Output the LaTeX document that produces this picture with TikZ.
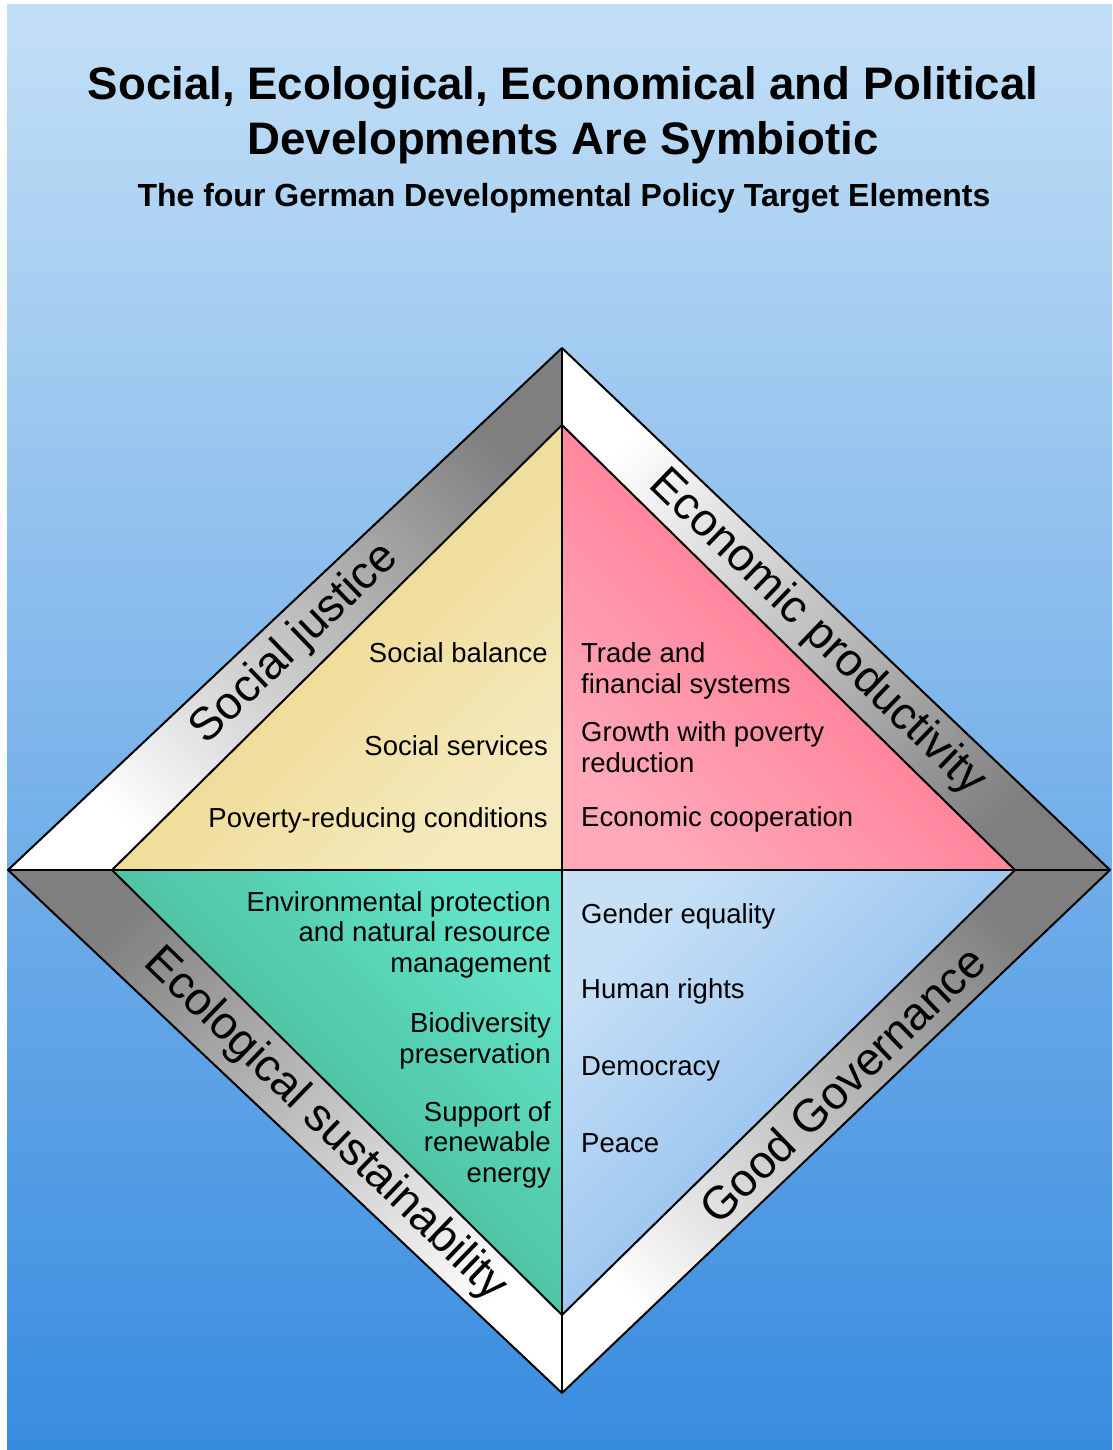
\documentclass[tikz,border=0pt]{standalone}
\usepackage{fontspec}
\setmainfont{Liberation Sans}
\usetikzlibrary{positioning}

% Colours of the background, the bands and the four fields
\definecolor{bgtop}{HTML}{C3DFF6}
\definecolor{bgbottom}{HTML}{388CE0}
\definecolor{bandgray}{HTML}{7F7F7F}
\definecolor{sjdark}{HTML}{EDCF78}
\definecolor{sjlight}{HTML}{F4EABD}
\definecolor{epdark}{HTML}{FF6583}
\definecolor{eplight}{HTML}{FFA8B8}
\definecolor{esdark}{HTML}{3CA784}
\definecolor{eslight}{HTML}{62E2C6}
\definecolor{ggdark}{HTML}{78AEEA}
\definecolor{gglight}{HTML}{C6E0F6}

\begin{document}
\begin{tikzpicture}[x=1pt, y=-1pt,
  edge/.style={draw=black, line width=2pt, line join=round},
  item/.style={font=\fontsize{27.5}{30.5}\selectfont, inner sep=0pt},
  bandlabel/.style={font=\fontsize{46}{50}\selectfont, inner sep=0pt}]
% Set the page size and the background
\useasboundingbox (0,0) rectangle (1112,1450);
\fill[white] (0,0) rectangle (1112,1450);
\shade[top color=bgtop, bottom color=bgbottom] (7,5) rectangle (1112,1450);

% Corners of the outer and the inner diamond
\coordinate (OT) at (562,348);
\coordinate (OL) at (8,870);
\coordinate (OR) at (1110,870);
\coordinate (OB) at (562,1393);
\coordinate (IT) at (562,425);
\coordinate (IL) at (112,870);
\coordinate (IR) at (1015,870);
\coordinate (IB) at (562,1315);
\coordinate (C) at (562,870);

% The four bands round the diamond
\shade[top color=bandgray, bottom color=white, shading angle=-45] (OT) -- (IT) -- (IL) -- (OL) -- cycle;
\shade[top color=white, bottom color=bandgray, shading angle=45] (OT) -- (OR) -- (IR) -- (IT) -- cycle;
\shade[top color=bandgray, bottom color=white, shading angle=-45] (OR) -- (OB) -- (IB) -- (IR) -- cycle;
\shade[top color=bandgray, bottom color=white, shading angle=45] (OL) -- (IL) -- (IB) -- (OB) -- cycle;

% The four fields
\shade[top color=sjdark, bottom color=sjlight, shading angle=45] (IT) -- (C) -- (IL) -- cycle;
\shade[top color=epdark, bottom color=eplight, shading angle=-45] (IT) -- (IR) -- (C) -- cycle;
\shade[top color=eslight, bottom color=esdark, shading angle=-45] (IL) -- (C) -- (IB) -- cycle;
\shade[top color=gglight, bottom color=ggdark, shading angle=45] (C) -- (IR) -- (IB) -- cycle;

% Outlines
\draw[edge] (OT) -- (OR) -- (OB) -- (OL) -- cycle;
\draw[edge] (IT) -- (IR) -- (IB) -- (IL) -- cycle;
\draw[edge] (OL) -- (OR);
\draw[edge] (OT) -- (OB);

% Title
\node[anchor=base, inner sep=0pt, font=\fontsize{45.6}{55}\selectfont\bfseries] (title1) at (563,100) {Social, Ecological, Economical and Political};
\node[anchor=base, inner sep=0pt, font=\fontsize{45.6}{55}\selectfont\bfseries] (title2) at (563,155) {Developments Are Symbiotic};
\node[anchor=base, inner sep=0pt, font=\fontsize{32}{36}\selectfont\bfseries] (subtitle) at (564,206) {The four German Developmental Policy Target Elements};

% Names of the bands
\node[bandlabel, rotate=44] (justice) at (295,644) {Social justice};
\node[bandlabel, rotate=-44] (productivity) at (817,633) {Economic productivity};
\node[bandlabel, rotate=-44] (sustainability) at (325,1125) {Ecological sustainability};
\node[bandlabel, rotate=44] (governance) at (842,1084) {Good Governance};

% Social justice field
\node[item, anchor=base east] (balance) at (548,662) {Social balance};
\node[item, anchor=base east] (services) at (548,755) {Social services};
\node[item, anchor=base east] (conditions) at (548,827) {Poverty-reducing conditions};

% Economic productivity field
\node[item, anchor=base west, align=left] (trade) at (581,693) {Trade and\\financial systems};
\node[item, anchor=base west, align=left] (growth) at (581,772) {Growth with poverty\\reduction};
\node[item, anchor=base west] (cooperation) at (581,826) {Economic cooperation};

% Ecological sustainability field
\node[item, anchor=base east, align=right] (environment) at (551,972) {Environmental protection\\and natural resource\\management};
\node[item, anchor=base east, align=right] (biodiversity) at (551,1063) {Biodiversity\\preservation};
\node[item, anchor=base east, align=right] (renewable) at (551,1182) {Support of\\renewable\\energy};

% Good governance field
\node[item, anchor=base west] (gender) at (581,923) {Gender equality};
\node[item, anchor=base west] (rights) at (581,998) {Human rights};
\node[item, anchor=base west] (democracy) at (581,1075) {Democracy};
\node[item, anchor=base west] (peace) at (581,1152) {Peace};
\end{tikzpicture}
\end{document}
